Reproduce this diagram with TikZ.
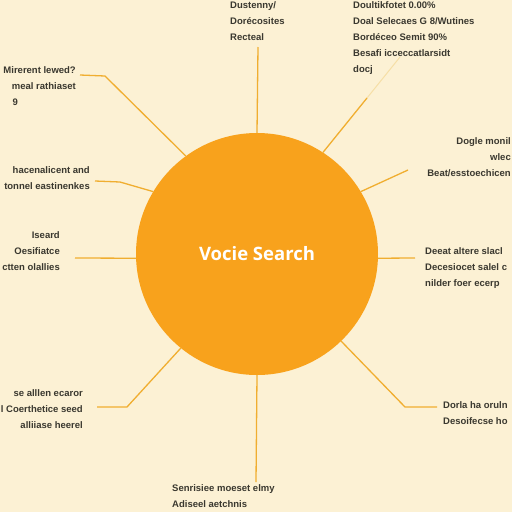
\documentclass[tikz,border=0pt]{standalone}
\usepackage{fontspec}
\setmainfont{Liberation Sans}
\newfontfamily\titlefont{Open Sans}
\definecolor{bgc}{HTML}{FCF1D4}
\definecolor{orb}{HTML}{F8A21C}
\definecolor{linec}{HTML}{F0AE30}
\definecolor{pale}{HTML}{F6DFA6}
\definecolor{txt}{HTML}{3A382F}
\begin{document}
\begin{tikzpicture}[x=1pt,y=-1pt,
  lbl/.style={inner sep=0pt,text=txt,font=\fontsize{9.5}{16}\selectfont\bfseries},
  lblL/.style={lbl,anchor=north west,align=left},
  lblR/.style={lbl,anchor=north east,align=right},
  conn/.style={draw=linec,line width=1.3pt},
  paleconn/.style={draw=pale,line width=1pt}]
\useasboundingbox (0,0) rectangle (512,512);
\clip (0,0) rectangle (512,512);
\fill[bgc] (0,0) rectangle (512,512);
\node[circle,fill=orb,minimum size=242pt,inner sep=0pt] (c) at (257,254) {};
\node[text=white,font=\titlefont\bfseries\fontsize{18.5}{22}\selectfont] (t) at (257,254) {Vocie Search};
% labels
\node[lblL] (n1) at (230,1) {Dustenny/\\Dorécosites\\Recteal};
\node[lblL] (n2) at (353,1) {Doultikfotet 0.00\%\\Doal Selecaes G 8/Wutines\\Bordéceo Semit 90\%\\Besafi icceccatlarsidt\\docj};
\node[lblR] (n10) at (76,66) {Mirerent lewed?\\meal rathiaset\\9\hspace*{58pt}};
\node[lblR] (n9) at (90,166) {hacenalicent and\\tonnel eastinenkes};
\node[lblR] (n8) at (60,231) {Iseard\\Oesifiatce\\ctten olallies};
\node[lblR] (n3) at (511,137) {Dogle monil\\wlec\\Beat/esstoechicen};
\node[lblL] (n4) at (425,247) {Deeat altere slacl\\Decesiocet salel c\\nilder foer ecerp};
\node[lblR] (n7) at (83,389) {se alllen ecaror\\l Coerthetice seed\\alliiase heerel};
\node[lblL] (n5) at (443,401) {Dorla ha oruln\\Desoifecse ho};
\node[lblL] (n6) at (172,484) {Senrisiee moeset elmy\\Adiseel aetchnis};
% connector end points
\coordinate (e1) at (258,47);
\coordinate (b2) at (367,98);
\coordinate (e2) at (400,57);
\coordinate (e3) at (408,170);
\coordinate (e4) at (415,258);
\coordinate (b5) at (405,407);
\coordinate (e5) at (437,407);
\coordinate (e6) at (256,482);
\coordinate (b7) at (127,407);
\coordinate (e7) at (97,407);
\coordinate (e8) at (75,258);
\coordinate (b9) at (120,182);
\coordinate (e9) at (95,181);
\coordinate (b10) at (105,76);
\coordinate (e10) at (80,75);
% connectors
\draw[conn] (c.90) -- (e1);
\draw[paleconn] (b2) -- (e2);
\draw[conn] (c.57) -- (b2);
\draw[conn] (c.31) -- (e3);
\draw[conn] (c.-2) -- (e4);
\draw[conn] (c.-46) -- (b5) -- (e5);
\draw[conn] (c.-90) -- (e6);
\draw[conn] (c.231) -- (b7) -- (e7);
\draw[conn] (c.182) -- (e8);
\draw[conn] (c.149) -- (b9) -- (e9);
\draw[conn] (c.126) -- (b10) -- (e10);
\end{tikzpicture}
\end{document}
